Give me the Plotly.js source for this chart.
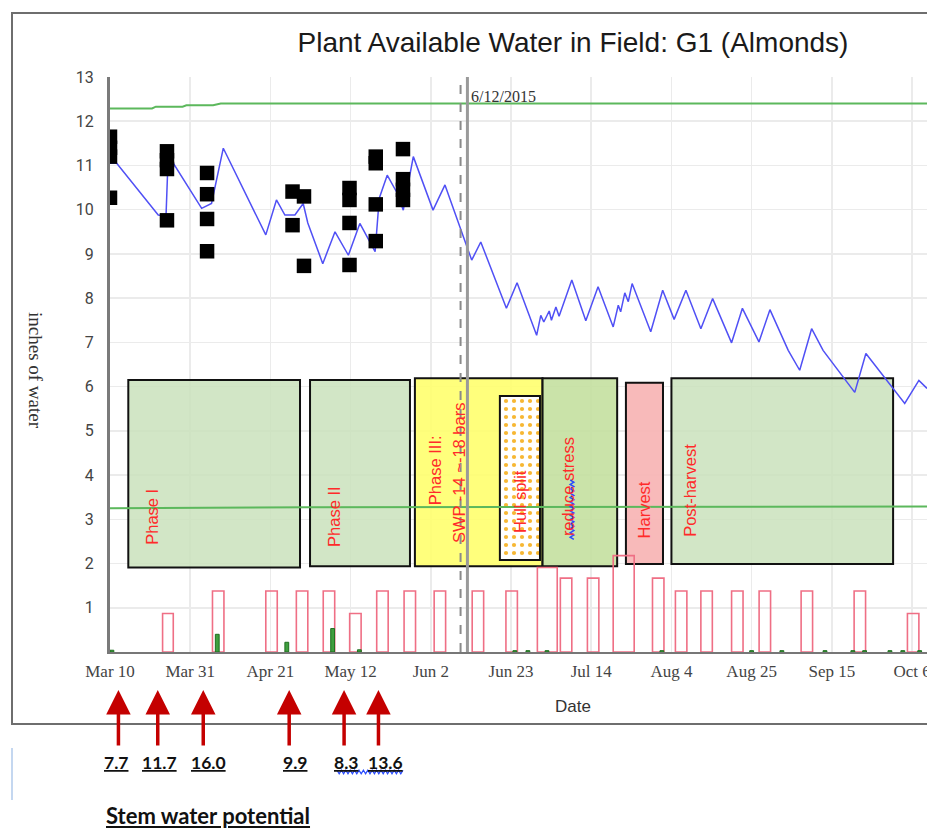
<!DOCTYPE html>
<html><head><meta charset="utf-8">
<script src="https://cdn.plot.ly/plotly-3.0.1.min.js"></script>
<style>html,body{margin:0;padding:0;background:#fff;overflow:hidden}</style>
</head><body><div id="chart" style="width:927px;height:828px"></div>
<script>
// ---------- DATA ----------
// Plant available water (blue line)
const pawDates = ['2015-03-10 00:00','2015-03-11 18:00','2015-03-22 15:00','2015-03-24 16:00','2015-03-25 04:00','2015-03-26 14:00',
 '2015-04-03 00:00','2015-04-05 14:00','2015-04-08 16:00','2015-04-11 07:00','2015-04-19 19:00','2015-04-22 14:00','2015-04-24 19:00',
 '2015-04-27 10:00','2015-04-29 14:00','2015-04-30 19:00','2015-05-04 17:00','2015-05-07 22:00','2015-05-11 10:00','2015-05-14 10:00',
 '2015-05-18 10:00','2015-05-19 12:00','2015-05-21 14:00','2015-05-24 01:00','2015-05-25 19:00','2015-05-28 10:00','2015-06-02 14:00',
 '2015-06-05 17:00','2015-06-12 17:00','2015-06-15 02:00','2015-06-21 19:00','2015-06-24 14:00','2015-06-29 17:00','2015-06-30 19:00',
 '2015-07-01 14:00','2015-07-03 00:00','2015-07-03 14:00','2015-07-04 18:00','2015-07-05 14:00','2015-07-08 22:00','2015-07-12 14:00',
 '2015-07-15 19:00','2015-07-19 18:00','2015-07-21 02:00','2015-07-21 17:00','2015-07-22 19:00','2015-07-23 17:00','2015-07-24 17:00',
 '2015-07-29 14:00','2015-08-01 17:00','2015-08-04 17:00','2015-08-07 19:00','2015-08-11 17:00','2015-08-14 19:00','2015-08-19 18:00',
 '2015-08-22 14:00','2015-08-26 22:00','2015-08-29 19:00','2015-09-03 14:00','2015-09-06 14:00','2015-09-09 17:00','2015-09-12 17:00',
 '2015-09-21 00:00','2015-09-23 22:00','2015-10-04 02:00','2015-10-07 19:00','2015-10-09 22:00'];
const pawValues = [11.05,11.05,9.88,9.86,11.05,11.05,
 10.03,10.14,11.39,10.93,9.43,10.22,9.88,
 9.88,10.14,9.70,8.78,9.50,8.97,9.69,
 9.05,10.26,10.78,10.40,9.99,11.20,9.99,
 10.56,8.86,9.27,7.77,8.35,7.16,7.61,
 7.46,7.71,7.50,7.80,7.59,8.41,7.49,
 8.26,7.35,7.84,7.69,8.12,7.92,8.33,
 7.24,8.18,7.52,8.18,7.31,7.99,6.99,
 7.77,7.01,7.74,6.82,6.37,7.31,6.82,
 5.87,6.75,5.62,6.14,5.96];

// Upper green line (field capacity)
const fcDates = ['2015-03-10','2015-03-21','2015-03-22','2015-03-29','2015-03-30','2015-04-06','2015-04-08','2015-10-12'];
const fcValues = [12.29,12.29,12.33,12.33,12.36,12.36,12.40,12.40];

// Lower green line (refill point)
const rpDates = ['2015-03-10','2015-05-01','2015-10-12'];
const rpValues = [3.25,3.27,3.29];

// Soil moisture readings (black squares)
const sampleDates = ['2015-03-10 00:00','2015-03-10 00:00','2015-03-10 00:00','2015-03-10 00:00',
 '2015-03-24 22:00','2015-03-24 22:00','2015-03-24 22:00','2015-03-24 22:00',
 '2015-04-04 10:00','2015-04-04 10:00','2015-04-04 10:00','2015-04-04 10:00',
 '2015-04-26 19:00','2015-04-26 19:00','2015-04-29 19:00','2015-04-29 19:00',
 '2015-05-11 17:00','2015-05-11 17:00','2015-05-11 17:00','2015-05-11 17:00',
 '2015-05-18 14:00','2015-05-18 14:00','2015-05-18 14:00','2015-05-18 14:00',
 '2015-05-25 17:00','2015-05-25 17:00','2015-05-25 17:00','2015-05-25 17:00'];
const sampleValues = [11.65,11.40,11.20,10.27,
 11.32,11.12,10.92,9.76,
 10.83,10.35,9.79,9.06,
 10.41,9.65,10.30,8.73,
 10.49,10.22,9.70,8.75,
 11.20,11.05,10.12,9.29,
 11.37,10.69,10.45,10.22];

// Irrigation events (red outlined bars)
const irrDates = ['2015-03-25 04:00','2015-04-07 08:00','2015-04-21 07:00','2015-04-29 07:00','2015-05-06 08:00','2015-05-13 06:00',
 '2015-05-20 08:00','2015-05-27 12:00','2015-06-04 09:00','2015-06-14 08:00','2015-06-23 04:00','2015-07-02 12:00',
 '2015-07-07 10:00','2015-07-14 12:00','2015-07-22 12:00','2015-07-31 13:00','2015-08-06 13:00','2015-08-13 05:00',
 '2015-08-21 06:00','2015-08-28 11:00','2015-09-08 11:00','2015-09-22 08:00','2015-10-06 07:00'];
const irrValues = [0.87,1.38,1.38,1.38,1.38,0.87,1.38,1.38,1.38,1.38,1.38,1.91,1.67,1.67,2.18,1.67,1.38,1.38,1.38,1.38,1.38,1.38,0.87];
const irrDays = [2.8,3,3,3,3,3,3,3,3,3,3,5.2,3,3,5.5,3,3,3,3,3,3,3,3];

// Rain events (green bars)
const rainDates = ['2015-03-10 12:00','2015-04-07 02:00','2015-04-25 07:00','2015-05-07 07:00','2015-05-14 07:00','2015-06-24 00:00',
 '2015-06-27 10:00','2015-07-02 10:00','2015-08-01 12:00','2015-08-25 00:00','2015-09-01 22:00','2015-09-13 05:00',
 '2015-09-20 12:00','2015-09-23 14:00','2015-09-30 05:00','2015-10-03 14:00','2015-10-08 00:00'];
const rainValues = [0.04,0.40,0.22,0.53,0.05,0.03,0.03,0.03,0.03,0.03,0.03,0.03,0.03,0.03,0.03,0.03,0.03];

// Axis ticks
const tickDates = ['2015-03-10','2015-03-31','2015-04-21','2015-05-12','2015-06-02','2015-06-23','2015-07-14','2015-08-04','2015-08-25','2015-09-15','2015-10-06'];
const tickLabels = ['Mar 10','Mar 31','Apr 21','May 12','Jun 2','Jun 23','Jul 14','Aug 4','Aug 25','Sep 15','Oct 6'];

// Phases
const phaseNames  = ['Phase I','Phase II','Phase III','reduce stress','Harvest','Post-harvest'];
const phaseStarts = ['2015-03-14 19:00','2015-05-01 09:00','2015-05-28 20:00','2015-07-01 06:00','2015-07-23 02:00','2015-08-04 00:00'];
const phaseEnds   = ['2015-04-28 18:00','2015-05-27 13:00','2015-07-01 06:00','2015-07-20 19:00','2015-08-01 19:00','2015-10-01 01:00'];
const hullStart = '2015-06-20 02:00', hullEnd = '2015-06-30 14:00';
const markerDate = '2015-06-11 14:00', markerLabel = '6/12/2015';

// Stem water potential readings
const swpDates  = ['2015-03-12 05:00','2015-03-22 12:00','2015-04-03 10:00','2015-04-25 22:00','2015-05-10 07:00','2015-05-19 07:00'];
const swpValues = ['7.7','11.7','16.0','9.9','8.3','13.6'];

// ---------- LAYOUT HELPERS ----------
const L = 110, T = 77, PW = 817, PH = 575; // plot area in px
const px = x => (x - L) / PW;
const py = y => (T + PH - y) / PH;
const msDay = 86400000;
const toMs = s => Date.parse(s.replace(' ', 'T') + 'Z');

// decorative spell-check squiggle (paper coords path)
function squiggle(x0, y0, len, vertical) {
  let d = '';
  const step = 2.2, amp = 1.8;
  for (let i = 0, k = 0; i <= len; i += step, k++) {
    const off = (k % 2 ? amp : -amp);
    const X = vertical ? x0 + off : x0 + i;
    const Y = vertical ? y0 + i : y0 + off;
    d += (k ? ' L ' : 'M ') + px(X).toFixed(5) + ',' + py(Y).toFixed(5);
  }
  return d;
}

const traces = [
  {type:'bar', x:[new Date((toMs(hullStart) + toMs(hullEnd)) / 2).toISOString().slice(0,19).replace('T',' ')],
   y:[3.71], base:[2.08], width:[toMs(hullEnd) - toMs(hullStart)],
   marker:{color:'#ffffff', line:{color:'#111', width:2}, pattern:{shape:'.', fgcolor:'#f7b733', bgcolor:'#ffffff', size:8, solidity:0.22}},
   hoverinfo:'skip', showlegend:false},
  {type:'scatter', mode:'lines', x:fcDates, y:fcValues, line:{color:'#5cb85c', width:2}, hoverinfo:'skip'},
  {type:'scatter', mode:'lines', x:rpDates, y:rpValues, line:{color:'#5cb85c', width:2}, hoverinfo:'skip'},
  {type:'bar', x:irrDates, y:irrValues, width:irrDays.map(d => d*msDay),
   marker:{color:'rgba(0,0,0,0)', line:{color:'#ef6f85', width:1.6}}, hoverinfo:'skip'},
  {type:'bar', x:rainDates, y:rainValues, width:rainDates.map(() => 1*msDay),
   marker:{color:'#3f9f3f', line:{color:'#1f6f1f', width:1}}, hoverinfo:'skip'},
  {type:'scatter', mode:'lines', x:pawDates, y:pawValues, line:{color:'#5050f5', width:1.5}, hoverinfo:'skip'},
  {type:'scatter', mode:'markers', x:sampleDates, y:sampleValues, cliponaxis:true,
   marker:{symbol:'square', size:14.5, color:'#000'}, hoverinfo:'skip'}
];

const boxStyle = [
  {fill:'rgba(202,226,188,0.85)', y0:1.91, y1:6.15},
  {fill:'rgba(202,226,188,0.85)', y0:1.94, y1:6.15},
  {fill:'rgba(255,255,110,0.9)',  y0:1.94, y1:6.19},
  {fill:'rgba(196,224,160,0.9)',  y0:1.94, y1:6.19},
  {fill:'rgba(248,182,182,0.95)', y0:1.99, y1:6.09},
  {fill:'rgba(202,226,188,0.85)', y0:1.99, y1:6.19}
];

const shapes = [];
phaseNames.forEach((n,i) => {
  shapes.push({type:'rect', xref:'x', yref:'y', x0:phaseStarts[i], x1:phaseEnds[i], y0:boxStyle[i].y0, y1:boxStyle[i].y1,
    fillcolor:boxStyle[i].fill, line:{color:'#111', width:2}, layer:'between'});
});
shapes.push({type:'line', xref:'x', yref:'paper', x0:'2015-06-09 19:00', x1:'2015-06-09 19:00', y0:0, y1:1, line:{color:'#8a8a8a', width:2, dash:'dash'}, layer:'above'});
shapes.push({type:'line', xref:'x', yref:'paper', x0:markerDate, x1:markerDate, y0:0, y1:1, line:{color:'#9a9a9a', width:3}, layer:'above'});
// outer frame
shapes.push({type:'rect', xref:'paper', yref:'paper', x0:px(12), x1:1.3, y0:py(724), y1:py(13), line:{color:'#6e6e6e', width:2}, fillcolor:'rgba(0,0,0,0)'});
// left margin marker line (document)
shapes.push({type:'line', xref:'paper', yref:'paper', x0:px(12), x1:px(12), y0:py(748), y1:py(800), line:{color:'#9dbde6', width:1.2}});
// spell-check squiggles
shapes.push({type:'path', xref:'paper', yref:'paper', path:squiggle(337, 772, 68, false), line:{color:'#2a4cff', width:1.2}});
shapes.push({type:'path', xref:'paper', yref:'paper', path:squiggle(572, 480, 61, true), line:{color:'#2a4cff', width:1.5}, layer:'above'});

const redFont = {family:'Liberation Sans, Arial, sans-serif', size:16.5, color:'#ff2a2a'};
const C = {xanchor:'center', yanchor:'middle', showarrow:false};
const ann = [];
const labelPos = [
  {x:'2015-03-20 22:00', y:3.05},
  {x:'2015-05-07 14:00', y:3.07},
  null,
  {x:'2015-07-07 22:00', y:3.75},
  {x:'2015-07-27 22:00', y:3.21},
  {x:'2015-08-08 19:00', y:3.66}
];
phaseNames.forEach((n,i) => {
  if (!labelPos[i]) return;
  ann.push(Object.assign({x:labelPos[i].x, y:labelPos[i].y, xref:'x', yref:'y', text:n, textangle:-90, font:redFont}, C));
});
ann.push(Object.assign({x:'2015-06-03 02:00', y:4.11, xref:'x', yref:'y', text:phaseNames[2] + ':', textangle:-90, font:redFont}, C));
ann.push(Object.assign({x:'2015-06-09 10:00', y:4.05, xref:'x', yref:'y', text:'SWP -14 ~-18 bars', textangle:-90, font:redFont}, C));
ann.push(Object.assign({x:'2015-06-25 07:00', y:3.41, xref:'x', yref:'y', text:'Hull split', textangle:-90, font:redFont}, C));
// date marker label
ann.push({x:markerDate, y:12.55, xref:'x', yref:'y', text:markerLabel, xanchor:'left', yanchor:'middle', xshift:2, showarrow:false,
  font:{family:'Liberation Serif, serif', size:16, color:'#333'}});
// axis titles
ann.push(Object.assign({x:px(573), y:py(706), xref:'paper', yref:'paper', text:'Date',
  font:{family:'Liberation Sans, Arial, sans-serif', size:17, color:'#333'}}, C));
ann.push(Object.assign({x:px(36), y:py(370), xref:'paper', yref:'paper', text:'inches of water', textangle:90,
  font:{family:'Liberation Serif, serif', size:19, color:'#333'}}, C));
// SWP arrows & values
const numShift = [-2, 2, 5, 6, 2, 7];
swpDates.forEach((d,i) => {
  ann.push({x:d, y:py(690), xref:'x', yref:'paper', text:'', showarrow:true, ax:0, ay:57, axref:'pixel', ayref:'pixel',
    xanchor:'center', yanchor:'middle',
    arrowhead:2, arrowsize:1.4, arrowwidth:3.5, arrowcolor:'#c40000', standoff:0, startstandoff:0});
  ann.push(Object.assign({x:d, y:py(762), xref:'x', yref:'paper', xshift:numShift[i], text:'<b><u>' + swpValues[i] + '</u></b>',
    font:{family:'Lato, Carlito, sans-serif', size:17.5, color:'#111'}}, C));
});
ann.push(Object.assign({x:px(208), y:py(815), xref:'paper', yref:'paper', text:'<b><u>Stem water potential</u></b>',
  font:{family:'Lato, Carlito, sans-serif', size:22, color:'#111'}}, C));

const layout = {
  width:927, height:828,
  margin:{l:L, r:0, t:T, b:828 - T - PH, pad:0},
  paper_bgcolor:'#fff', plot_bgcolor:'#fff',
  showlegend:false, barmode:'overlay', bargap:0,
  title:{text:'Plant Available Water in Field: G1 (Almonds)', x:573/927, xref:'container', xanchor:'center',
    y:1 - 42/828, yref:'container', yanchor:'middle',
    font:{family:'Liberation Sans, Arial, sans-serif', size:28, color:'#1a1a1a'}},
  xaxis:{type:'date', range:['2015-03-10','2015-10-09 22:00'], tickvals:tickDates, ticktext:tickLabels,
    showgrid:true, gridcolor:'#ebebeb', gridwidth:1.5, showline:true, linecolor:'#777', linewidth:2,
    ticks:'', ticklabelstandoff:3, ticklabeloverflow:'allow',
    tickfont:{family:'Liberation Serif, serif', size:17, color:'#444'}, zeroline:false},
  yaxis:{range:[0,13], tickvals:[1,2,3,4,5,6,7,8,9,10,11,12,13], showgrid:true, gridcolor:'#ebebeb', gridwidth:1.5,
    showline:true, linecolor:'#7a7a7a', linewidth:3, ticks:'', ticklabelstandoff:10, zeroline:false,
    tickfont:{family:'Roboto, DejaVu Sans, sans-serif', size:16, color:'#444'}},
  shapes:shapes, annotations:ann
};

Plotly.newPlot('chart', traces, layout, {staticPlot:true, displayModeBar:false});
</script></body></html>
